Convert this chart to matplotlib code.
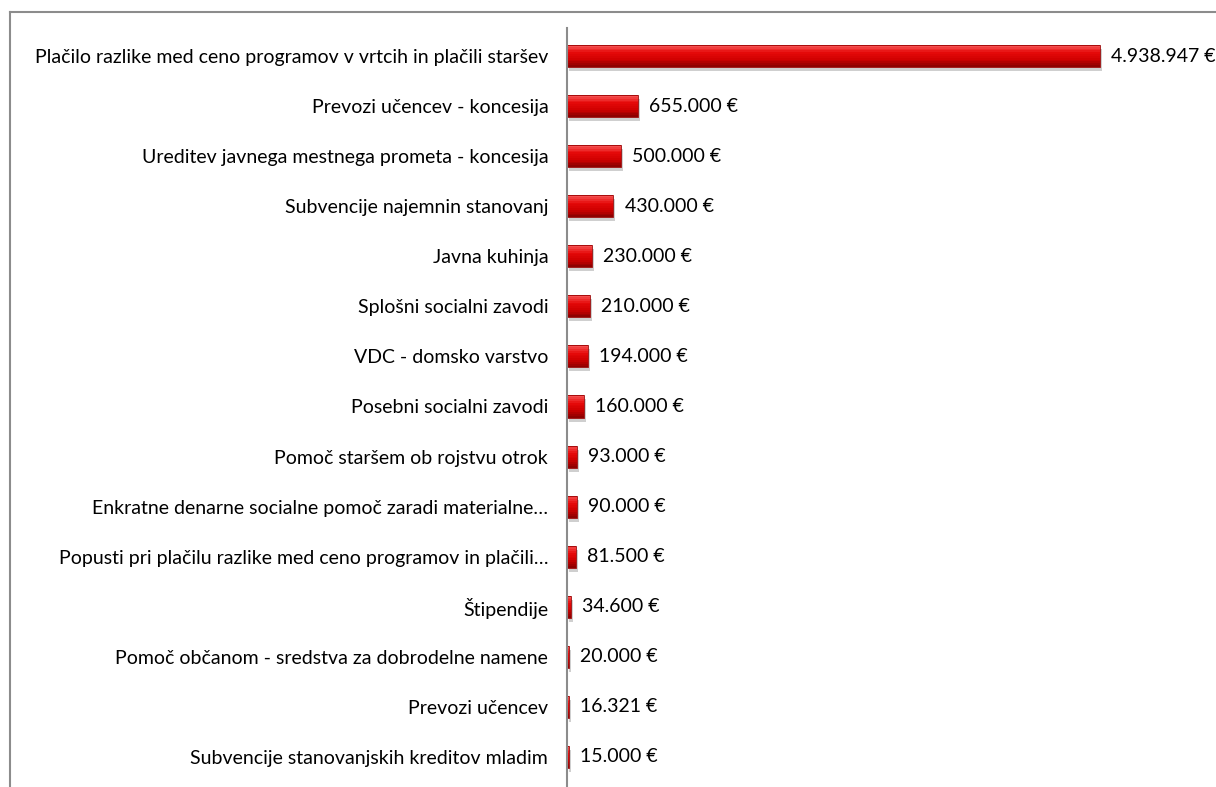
import numpy as np
import matplotlib.pyplot as plt
import matplotlib.transforms as mtransforms
from matplotlib.colors import LinearSegmentedColormap

categories = [
    'Plačilo razlike med ceno programov v vrtcih in plačili staršev',
    'Prevozi učencev - koncesija',
    'Ureditev javnega mestnega prometa - koncesija',
    'Subvencije najemnin stanovanj',
    'Javna kuhinja',
    'Splošni socialni zavodi',
    'VDC - domsko varstvo',
    'Posebni socialni zavodi',
    'Pomoč staršem ob rojstvu otrok',
    'Enkratne denarne socialne pomoč zaradi materialne…',
    'Popusti pri plačilu razlike med ceno programov in plačili…',
    'Štipendije',
    'Pomoč občanom - sredstva za dobrodelne namene',
    'Prevozi učencev',
    'Subvencije stanovanjskih kreditov mladim',
]
values = [4938947, 655000, 500000, 430000, 230000, 210000, 194000, 160000,
          93000, 90000, 81500, 34600, 20000, 16321, 15000]
value_labels = ['4.938.947 €', '655.000 €', '500.000 €', '430.000 €', '230.000 €',
                '210.000 €', '194.000 €', '160.000 €', '93.000 €', '90.000 €',
                '81.500 €', '34.600 €', '20.000 €', '16.321 €', '15.000 €']

plt.rcParams['font.family'] = ['Lato', 'DejaVu Sans']

fig = plt.figure(figsize=(12.16, 7.87), dpi=100)
# outer frame (only top and left edge are visible in the original)
fig.add_artist(plt.Line2D([10/1216, 1.0], [1 - 12/787, 1 - 12/787], color='#8c8c8c', lw=1.5))
fig.add_artist(plt.Line2D([10/1216, 10/1216], [0, 1 - 12/787], color='#8c8c8c', lw=1.5))

ax = fig.add_axes([567/1216, 0, 1 - 567/1216, (787 - 28)/787])
y = np.arange(len(categories))
h = 0.44

# soft drop shadow
shadow = mtransforms.offset_copy(ax.transData, fig=fig, x=2, y=-4, units='dots')
ax.barh(y, values, height=h, color='#cfcfcf', transform=shadow, zorder=1)

# vertical gradient inside each bar: light red top -> bright red -> dark red bottom
grad = LinearSegmentedColormap.from_list('bar', ['#f55050', '#e60a0a', '#d00000', '#8e0000'])
n_slices = 12
for k in range(n_slices):
    top = -h / 2 + k * h / n_slices
    ax.barh(y + top + h / n_slices / 2, values, height=h / n_slices * 1.05,
            color=grad(k / (n_slices - 1)), linewidth=0, zorder=2)
ax.barh(y, values, height=h, fill=False, edgecolor='#9a0000', linewidth=0.6, zorder=3)

for yi, v, lab in zip(y, values, value_labels):
    ax.annotate(lab, (v, yi), xytext=(8, 0), textcoords='offset points',
                va='center', ha='left', fontsize=14, color='black')

ax.set_yticks(y)
ax.set_yticklabels(categories, fontsize=14)
ax.tick_params(axis='y', length=0, pad=13.5)
ax.set_xticks([])
ax.set_ylim(14.6, -0.56)
ax.set_xlim(0, 4938947 * (1216 - 567) / (1100 - 567))
for s in ['top', 'right', 'bottom']:
    ax.spines[s].set_visible(False)
ax.spines['left'].set_color('#8c8c8c')
ax.spines['left'].set_linewidth(1.5)
ax.spines['left'].set_zorder(5)

fig.savefig('out.png', dpi=100)
